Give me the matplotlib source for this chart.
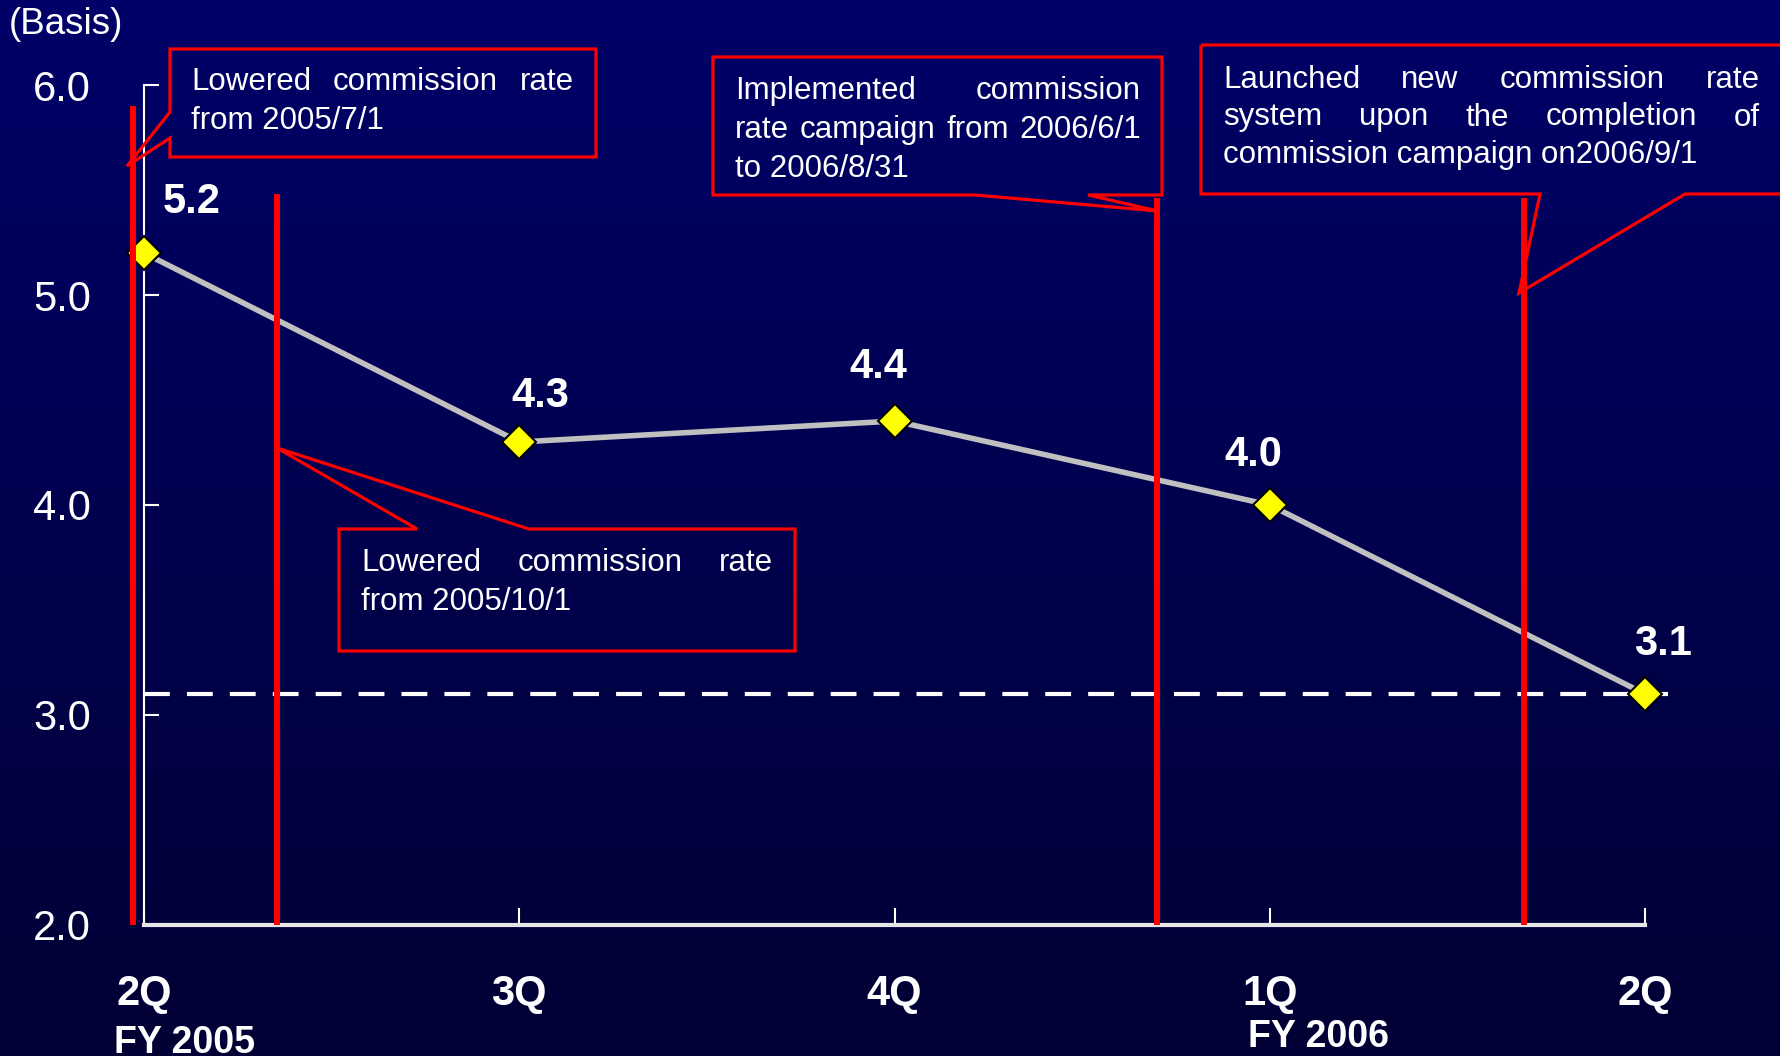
import matplotlib
matplotlib.use('Agg')
import numpy as np
import matplotlib.pyplot as plt
from matplotlib.patches import Polygon
from matplotlib.colors import LinearSegmentedColormap

plt.rcParams['font.family'] = ['Liberation Sans', 'DejaVu Sans']

# data
quarters = ['2Q', '3Q', '4Q', '1Q', '2Q']
fiscal_years = ['FY 2005', 'FY 2006']
rate = [5.2, 4.3, 4.4, 4.0, 3.1]
rate_labels = ['5.2', '4.3', '4.4', '4.0', '3.1']
current_rate = 3.1
# commission changes: position on the quarter axis and top of the red marker
event_x = [-0.03, 0.354, 2.70, 3.678]
event_top = [5.90, 5.48, 5.46, 5.46]
notes = [
    ['Lowered commission rate', 'from 2005/7/1'],
    ['Implemented commission', 'rate campaign from 2006/6/1', 'to 2006/8/31'],
    ['Launched new commission rate', 'system upon the completion of',
     'commission campaign on2006/9/1'],
    ['Lowered commission rate', 'from 2005/10/1'],
]

# layout (pixels)
W, H = 1780, 1056
label_off = [(34, 37), (15, 33), (-12, 39), (-12, 36), (13, 36)]
note_text = [(191, 574, 82, 39), (735, 1141, 91, 39), (1223, 1760, 80, 37.5), (361, 773, 563, 39)]
note_shape = [
    [(170, 49), (596, 49), (596, 157), (170, 157), (170, 138), (127, 166), (170, 112)],
    [(713, 57), (1162, 57), (1162, 195), (1088, 195), (1158, 211), (975, 195), (713, 195)],
    [(1201, 45), (1800, 45), (1800, 194), (1685, 194), (1519, 293), (1540, 194), (1201, 194)],
    [(339, 529), (417, 529), (277, 448), (529, 529), (795, 529), (795, 651), (339, 651)],
]

fig = plt.figure(figsize=(W / 100, H / 100), dpi=100)

# background gradient
bg = fig.add_axes([0, 0, 1, 1], zorder=-10)
cmap = LinearSegmentedColormap.from_list('bg', ['#000068', '#000034'])
bg.imshow(np.linspace(0, 1, 256).reshape(-1, 1), aspect='auto', cmap=cmap, extent=[0, 1, 0, 1])
bg.axis('off')

ax = fig.add_axes([144 / W, (H - 925) / H, (1645 - 144) / W, 840 / H])
ax.set_facecolor('none')
x = np.arange(len(rate))
ax.plot([0, 4.06], [current_rate, current_rate], color='white', lw=3,
        ls=(0, (6.2, 4.1)), clip_on=False, zorder=2)
ax.plot(x, rate, color='#c0c0c0', lw=4, zorder=3, clip_on=False,
        marker='D', ms=17, mfc='#ffff00', mec='black', mew=1.5)
ax.vlines(event_x, 2, event_top, color='red', lw=4.3, zorder=5, clip_on=False)

for xi, yi, lbl, off in zip(x, rate, rate_labels, label_off):
    ax.annotate(lbl, (xi, yi), xytext=off, textcoords='offset points',
                ha='center', va='center', color='white', fontsize=30, fontweight='bold')

ax.set_xlim(0, 4)
ax.set_ylim(2, 6)
ax.set_xticks(x)
ax.set_xticklabels(quarters, fontweight='bold')
ax.set_yticks([2, 3, 4, 5, 6])
ax.set_yticklabels(['%.1f' % v for v in [2, 3, 4, 5, 6]])
ax.tick_params(axis='y', direction='in', length=11, width=1.5, color='white',
               labelcolor='white', labelsize=30, pad=38)
ax.tick_params(axis='x', direction='in', length=12, width=1.5, color='white',
               labelcolor='white', labelsize=30, pad=35)
for s in ['top', 'right']:
    ax.spines[s].set_visible(False)
ax.spines['left'].set_color('white')
ax.spines['left'].set_linewidth(1.5)
ax.spines['bottom'].set_color('#e6e6e6')
ax.spines['bottom'].set_linewidth(3)

# overlay in pixel coordinates for callouts and loose text
ov = fig.add_axes([0, 0, 1, 1], zorder=10)
ov.set_xlim(0, W)
ov.set_ylim(H, 0)
ov.axis('off')

ov.text(9, 25, '(Basis)', color='white', fontsize=26.5, ha='left', va='center')
ov.text(184, 1043, fiscal_years[0], color='white', fontsize=27, fontweight='bold', ha='center', va='center')
ov.text(1318, 1037, fiscal_years[1], color='white', fontsize=27, fontweight='bold', ha='center', va='center')

renderer = fig.canvas.get_renderer()


def note(lines, left, right, y0, step, size=22.5):
    for i, line in enumerate(lines):
        y = y0 + i * step
        words = line.split(' ')
        if i == len(lines) - 1 or len(words) == 1:
            ov.text(left, y, line, color='white', fontsize=size, ha='left', va='center')
            continue
        texts = [ov.text(left, y, w, color='white', fontsize=size, ha='left', va='center') for w in words]
        widths = [t.get_window_extent(renderer).width for t in texts]
        gap = (right - left - sum(widths)) / (len(words) - 1)
        xpos = left
        for t, w in zip(texts, widths):
            t.set_x(xpos)
            xpos += w + gap


for lines, (l, r, y0, step), shape in zip(notes, note_text, note_shape):
    ov.add_patch(Polygon(shape, closed=True, fill=False, ec='red', lw=2.3, clip_on=False))
    note(lines, l, r, y0, step)

fig.savefig('out.png', dpi=100)
